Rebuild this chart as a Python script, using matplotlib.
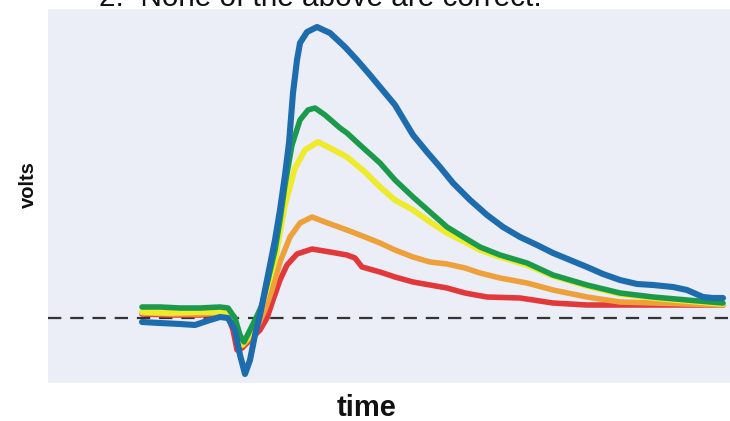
import matplotlib
matplotlib.use("Agg")
import matplotlib.pyplot as plt
import numpy as np

# time (arbitrary ms) and volts (arbitrary mV, 0 = resting level)
t_blue = [9.4, 11.2, 13.2, 14.7, 16.2, 17.2, 18.0, 18.7, 19.2, 19.7, 20.2, 20.7, 21.2, 21.7, 22.2,
          22.7, 23.2, 23.7, 24.1, 24.5, 24.9, 25.2, 25.9, 26.9, 28.2, 29.7, 30.9, 32.2, 33.2, 34.7,
          36.5, 37.9, 39.2, 40.5, 42.2, 43.9, 45.5, 47.2, 48.9, 50.5, 52.2, 53.9, 55.5, 57.2, 58.9,
          60.5, 62.5, 63.9, 65.5, 66.5, 67.5]
v_blue = [-0.4, -0.5, -0.6, -0.7, -0.2, 0.1, 0.0, -1.2, -3.7, -5.6, -4.2, -1.7, 0.3, 2.8, 5.3,
          7.8, 10.8, 14.3, 17.5, 22.5, 25.8, 27.5, 28.6, 29.1, 28.5, 27.1, 25.8, 24.3, 23.1, 21.3,
          18.3, 16.6, 15.1, 13.5, 11.8, 10.3, 9.1, 8.1, 7.3, 6.5, 5.8, 5.1, 4.4, 3.8, 3.4,
          3.3, 3.1, 2.8, 2.1, 2.0, 2.0]

t_green = [9.4, 11.2, 13.2, 15.2, 17.2, 18.0, 18.7, 19.2, 19.6, 20.2, 20.8, 21.4, 22.0, 22.7, 23.2,
           23.7, 24.4, 25.2, 26.0, 26.7, 27.7, 29.2, 29.9, 31.2, 33.2, 34.7, 36.5, 38.2, 39.9, 41.7,
           43.2, 45.2, 47.9, 50.5, 53.9, 57.2, 60.5, 63.9, 67.5]
v_green = [1.1, 1.1, 1.0, 1.0, 1.1, 1.0, 0.0, -1.7, -2.4, -1.2, 0.0, 1.3, 3.8, 6.8, 9.8,
           13.3, 17.3, 19.8, 20.8, 21.0, 20.3, 19.0, 18.5, 17.3, 15.5, 13.8, 12.1, 10.6, 9.1, 8.0,
           7.1, 6.3, 5.5, 4.3, 3.3, 2.5, 2.1, 1.8, 1.5]

t_yellow = [9.4, 12.2, 15.2, 16.7, 18.0, 18.7, 19.4, 20.2, 21.0, 21.7, 22.7, 23.7, 24.7, 25.7, 27.0,
            28.2, 29.9, 31.7, 33.2, 34.7, 36.5, 38.2, 39.9, 41.7, 43.2, 45.2, 47.9, 50.5, 53.9, 57.2,
            60.5, 63.9, 67.5]
v_yellow = [0.6, 0.5, 0.6, 0.6, 0.5, -0.4, -2.7, -1.7, 0.0, 2.3, 5.8, 11.3, 15.0, 16.8, 17.6,
            17.0, 16.1, 14.6, 13.1, 11.8, 10.8, 9.6, 8.5, 7.6, 6.8, 6.1, 5.3, 4.2, 3.2, 2.4,
            2.0, 1.7, 1.4]

t_orange = [9.4, 12.2, 15.2, 17.2, 18.0, 18.6, 19.0, 19.5, 20.2, 21.0, 21.7, 22.4, 23.2, 24.2, 25.2,
            26.4, 27.7, 29.9, 31.7, 33.2, 34.7, 36.5, 38.2, 39.9, 41.7, 43.2, 45.2, 47.9, 50.5, 53.9,
            57.2, 60.5, 67.5]
v_orange = [0.5, 0.4, 0.4, 0.5, 0.4, -0.7, -2.2, -2.7, -2.0, -0.7, 0.8, 2.8, 5.6, 8.1, 9.5,
            10.1, 9.6, 8.8, 8.1, 7.5, 6.8, 6.1, 5.6, 5.4, 5.0, 4.5, 4.0, 3.5, 2.8, 2.1,
            1.6, 1.5, 1.3]

t_red = [9.4, 12.2, 15.2, 17.2, 18.0, 18.5, 18.9, 19.4, 20.2, 21.2, 21.9, 22.5, 23.2, 23.9, 24.9,
         26.4, 28.2, 29.9, 30.7, 31.4, 33.2, 34.7, 36.5, 38.2, 39.9, 41.7, 43.9, 47.2, 50.5, 53.9,
         67.5]
v_red = [0.4, 0.3, 0.3, 0.4, 0.2, -1.2, -3.2, -3.0, -2.2, -1.2, 0.0, 1.8, 3.8, 5.3, 6.4,
         6.9, 6.6, 6.3, 6.0, 5.1, 4.6, 4.1, 3.6, 3.3, 3.0, 2.5, 2.1, 2.0, 1.5, 1.3,
         1.3]

curves = [(t_red, v_red, '#e2383a', 4.0),
          (t_orange, v_orange, '#eea13a', 4.0),
          (t_yellow, v_yellow, '#eeea2c', 4.2),
          (t_green, v_green, '#1c9a4c', 4.0),
          (t_blue, v_blue, '#1d6cad', 4.4)]

plt.rcParams['font.family'] = ['Liberation Sans', 'DejaVu Sans']

fig = plt.figure(figsize=(7.3, 4.21), dpi=100)
ax = fig.add_axes([48/730, 38/421, 682/730, 374/421])
ax.set_facecolor('#ebedf7')

ax.axhline(0, color='#333333', lw=1.6, dashes=(6, 4), zorder=1)
for t, v, c, w in curves:
    ax.plot(t, v, color=c, lw=w, solid_joinstyle='round', solid_capstyle='round', zorder=2)

ax.set_xlim(0, 68.2)
ax.set_ylim(-6.5, 30.9)
ax.set_xticks([])
ax.set_yticks([])
for s in ax.spines.values():
    s.set_visible(False)

fig.text(28/730, 1 - 185/421, 'volts', rotation=90, ha='center', va='center',
         fontsize=14.5, fontweight='bold', color='#111111')
fig.text(367/730, 1 - 408/421, 'time', ha='center', va='center',
         fontsize=21, fontweight='bold', color='#111111')
# title sits mostly above the top edge, as in the source picture
fig.text(99/730, 1 - 6/421, '2.  None of the above are correct.', ha='left', va='baseline',
         fontsize=21.4, color='#111111')

fig.savefig('out.png', dpi=100)
